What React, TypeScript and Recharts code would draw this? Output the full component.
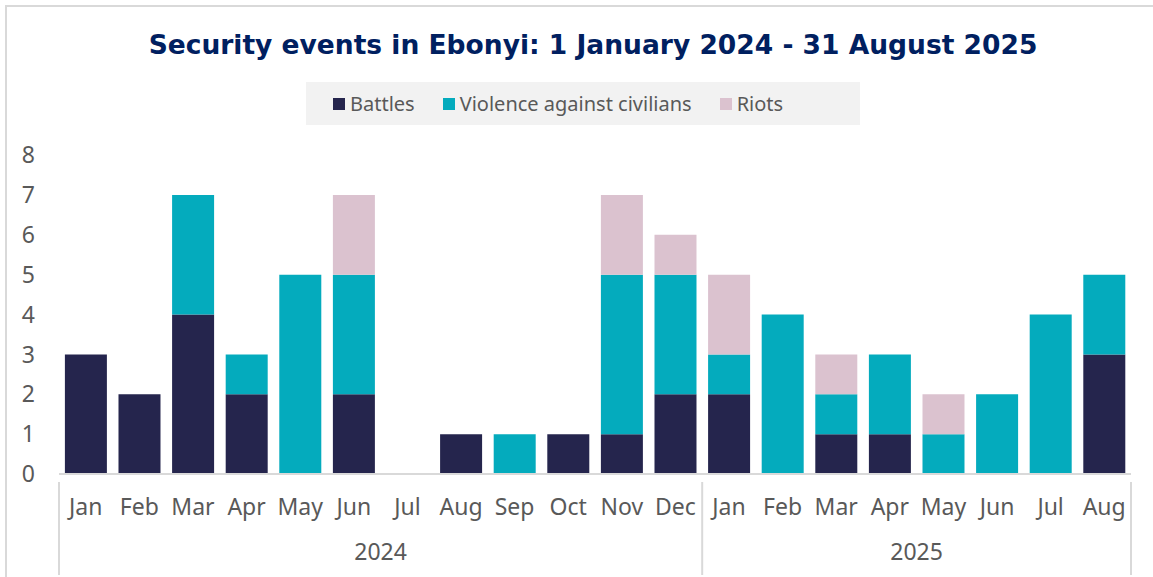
import { Bar, BarChart, XAxis, YAxis } from "recharts";

const months = ["Jan", "Feb", "Mar", "Apr", "May", "Jun", "Jul", "Aug", "Sep", "Oct", "Nov", "Dec", "Jan", "Feb", "Mar", "Apr", "May", "Jun", "Jul", "Aug"];
const yearLabels = ["2024", "2025"];
const yearSpans = [12, 8];

const battles = [3, 2, 4, 2, 0, 2, 0, 1, 0, 1, 1, 2, 2, 0, 1, 1, 0, 0, 0, 3];
const violence = [0, 0, 3, 1, 5, 3, 0, 0, 1, 0, 4, 3, 1, 4, 1, 2, 1, 2, 4, 2];
const riots = [0, 0, 0, 0, 0, 2, 0, 0, 0, 0, 2, 1, 2, 0, 1, 0, 1, 0, 0, 0];

const yTicks = [0, 1, 2, 3, 4, 5, 6, 7, 8];

const series = [
  { key: "battles", name: "Battles", color: "#25254D" },
  { key: "violence", name: "Violence against civilians", color: "#04ABBD" },
  { key: "riots", name: "Riots", color: "#DBC2CF" },
];

const W = 1153;
const H = 577;
const margin = { top: 155, right: 22, bottom: 3, left: 0 };
const Y_AXIS_W = 59;
const X_AXIS_H = 100;
const PLOT_W = W - margin.left - margin.right - Y_AXIS_W;
const STEP = PLOT_W / months.length;

const FONT = "'Noto Sans', sans-serif";
const GREY = "#595959";
const LINE = "#d9d9d9";
const AXIS_FS = 23;

const data = months.map((m, i) => ({
  month: m,
  battles: battles[i],
  violence: violence[i],
  riots: riots[i],
}));

// first index of each year group
const groupStarts = yearSpans.map((_, g) => yearSpans.slice(0, g).reduce((a, b) => a + b, 0));

function MonthTick(props: any) {
  const { x, y, index } = props;
  const parts: any[] = [];
  parts.push(
    <text key="m" x={x} y={y + 33} textAnchor="middle" fill={GREY} fontSize={AXIS_FS} fontFamily={FONT}>
      {months[index]}
    </text>
  );
  groupStarts.forEach((start, g) => {
    const end = start + yearSpans[g] - 1;
    if (index === start) {
      parts.push(<line key={"s" + g} x1={x - STEP / 2} x2={x - STEP / 2} y1={y} y2={y + 93} stroke={LINE} strokeWidth={2} />);
    }
    if (index === end && g === yearSpans.length - 1) {
      parts.push(<line key={"e" + g} x1={x + STEP / 2} x2={x + STEP / 2} y1={y} y2={y + 93} stroke={LINE} strokeWidth={2} />);
    }
    const mid = (start + end) / 2;
    if (index === Math.floor(mid)) {
      parts.push(
        <text key={"y" + g} x={x + (mid - Math.floor(mid)) * STEP} y={y + 78} textAnchor="middle" fill={GREY} fontSize={AXIS_FS} fontFamily={FONT}>
          {yearLabels[g]}
        </text>
      );
    }
  });
  return <g>{parts}</g>;
}

export default function App() {
  return (
    <div style={{ position: "absolute", left: 0, top: 0, width: W, height: H, overflow: "hidden", background: "#fff", fontFamily: FONT }}>
      <div style={{ position: "absolute", left: 5, top: 5, width: W - 5, height: H - 5, borderTop: `2px solid ${LINE}`, borderLeft: `2px solid ${LINE}`, boxSizing: "border-box" }} />
      <div style={{ position: "absolute", left: 93, top: 26, width: 1000, textAlign: "center", fontSize: 26.5, fontWeight: 700, color: "#002060", lineHeight: "38px", fontFamily: "'DejaVu Sans', sans-serif", whiteSpace: "nowrap" }}>
        Security events in Ebonyi: 1 January 2024 - 31 August 2025
      </div>
      <div style={{ position: "absolute", left: 306, top: 82, width: 554, height: 43, boxSizing: "border-box", paddingLeft: 27, background: "#f2f2f2", display: "flex", alignItems: "center", justifyContent: "flex-start", gap: 28 }}>
        {series.map((s) => (
          <div key={s.key} style={{ display: "flex", alignItems: "center", gap: 5, fontSize: 20, color: GREY }}>
            <span style={{ width: 12, height: 12, background: s.color, display: "inline-block" }} />
            <span>{s.name}</span>
          </div>
        ))}
      </div>
      <div style={{ position: "absolute", left: 0, top: 0 }}>
        <BarChart width={W} height={H} data={data} margin={margin} barCategoryGap="11%">
          <XAxis
            dataKey="month"
            interval={0}
            height={X_AXIS_H}
            axisLine={{ stroke: LINE, strokeWidth: 2 }}
            tickLine={false}
            tick={<MonthTick />}
          />
          <YAxis
            width={Y_AXIS_W}
            domain={[0, 8]}
            ticks={yTicks}
            interval={0}
            axisLine={false}
            tickLine={false}
            tickSize={0}
            tickMargin={24}
            tick={{ fill: GREY, fontSize: AXIS_FS, fontFamily: FONT }}
          />
          {series.map((s) => (
            <Bar key={s.key} dataKey={s.key} name={s.name} stackId="a" fill={s.color} isAnimationActive={false} />
          ))}
        </BarChart>
      </div>
    </div>
  );
}
